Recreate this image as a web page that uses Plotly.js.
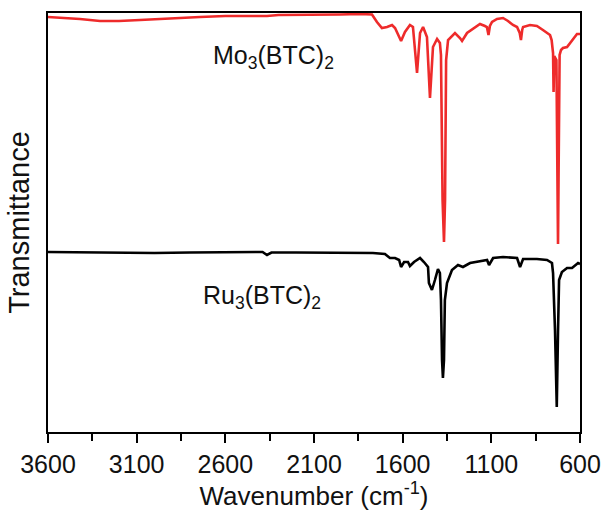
<!DOCTYPE html>
<html>
<head>
<meta charset="utf-8">
<script src="https://cdn.plot.ly/plotly-3.0.1.min.js"></script>
<style>html,body{margin:0;padding:0;background:#fff;}#chart{width:606px;height:515px;}</style>
</head>
<body>
<div id="chart"></div>
<script>
// Wavenumbers (cm-1) and offset transmittance (arbitrary units)
const moWavenumber = [3600,3500,3420,3307,3200,3081,2900,2743,2600,2517,2450,2365,2300,2179,2050,1953,1841,1773,1745,1717,1688,1660,1643,1609,1587,1559,1542,1519,1502,1485,1463,1446,1429,1406,1390,1384,1375,1367,1361,1355,1344,1305,1277,1265,1237,1192,1164,1136,1125,1116,1108,1096,1068,1034,1006,978,955,940,933,926,921,882,843,809,769,760,752,749,745,733,727,724,721,715,707,696,673,645,617,600];
const moTransmittance = [415,414,413,411,411,412,414,415,416,416,416.5,416,417,417,417,417.5,418,417.5,410,404,405,407,404,391,400,407,405,359,399,405,395,334,385,393,389,377,232,190,232,372,392,399,394,391,399,405,408,406,405,397,406,410,413,414,411,407,405,399,392,402,405,407,406,402,397,392,379,340,376,372,252,188,252,377,382,384,385,392,398,398];

const ruWavenumber = [3600,3400,3200,3000,2800,2600,2390,2365,2340,2200,2000,1841,1768,1700,1672,1643,1620,1609,1592,1570,1559,1536,1502,1480,1457,1452,1435,1418,1401,1390,1384,1378,1373,1367,1362,1350,1322,1288,1260,1220,1164,1124,1113,1090,1034,955,938,921,843,786,758,752,741,731,724,718,702,673,645,628,611,600];
const ruTransmittance = [180,179.5,179,179,179.5,180,180,177,179.5,179.5,179,179,179,178,174,174,172,165,170,170,166,170,174,170,165,149,142,152,163,159,132,72,54,72,132,149,162,167,165,169,171,172,167,174,175,174,165,173,173,172,169,159,102,25,100,152,160,164,164,167,169,168];

const xTicks = [3600,3100,2600,2100,1600,1100,600];
const moLabel = 'Mo<sub>3</sub>(BTC)<sub>2</sub>';
const ruLabel = 'Ru<sub>3</sub>(BTC)<sub>2</sub>';

const fontFam = 'Arial, "Liberation Sans", sans-serif';

const traces = [
  {x: moWavenumber, y: moTransmittance, mode: 'lines', line: {color: '#ee2b2b', width: 2.6}, hoverinfo: 'skip'},
  {x: ruWavenumber, y: ruTransmittance, mode: 'lines', line: {color: '#000000', width: 2.6}, hoverinfo: 'skip'}
];

const layout = {
  width: 606, height: 515,
  margin: {l: 48, r: 26, t: 13, b: 83},
  paper_bgcolor: '#fff', plot_bgcolor: '#fff',
  showlegend: false,
  font: {family: fontFam, color: '#000'},
  xaxis: {
    range: [3600, 600], autorange: false,
    tickvals: xTicks, ticktext: xTicks.map(String),
    ticks: 'outside', ticklen: 9, tickwidth: 2, tickcolor: '#000',
    minor: {dtick: 250, tick0: 600, ticks: 'outside', ticklen: 7, tickwidth: 2, tickcolor: '#000'},
    showline: true, linewidth: 2, linecolor: '#000', mirror: true,
    showgrid: false, zeroline: false,
    tickfont: {size: 25, family: fontFam, color: '#111'},
    title: {text: 'Wavenumber (cm<sup>-1</sup>)', font: {size: 26, family: fontFam, color: '#111'}, standoff: 6}
  },
  yaxis: {
    range: [0, 419], autorange: false,
    showticklabels: false, ticks: '',
    showline: true, linewidth: 2, linecolor: '#000', mirror: true,
    showgrid: false, zeroline: false,
    title: {text: 'Transmittance', font: {size: 29, family: fontFam, color: '#111'}, standoff: 8}
  },
  annotations: [
    {x: 2330, y: 375, xref: 'x', yref: 'y', text: moLabel, showarrow: false, font: {size: 25, family: fontFam, color: '#111'}},
    {x: 2393, y: 135, xref: 'x', yref: 'y', text: ruLabel, showarrow: false, font: {size: 25, family: fontFam, color: '#111'}}
  ]
};

Plotly.newPlot('chart', traces, layout, {staticPlot: true, displayModeBar: false});
</script>
</body>
</html>
